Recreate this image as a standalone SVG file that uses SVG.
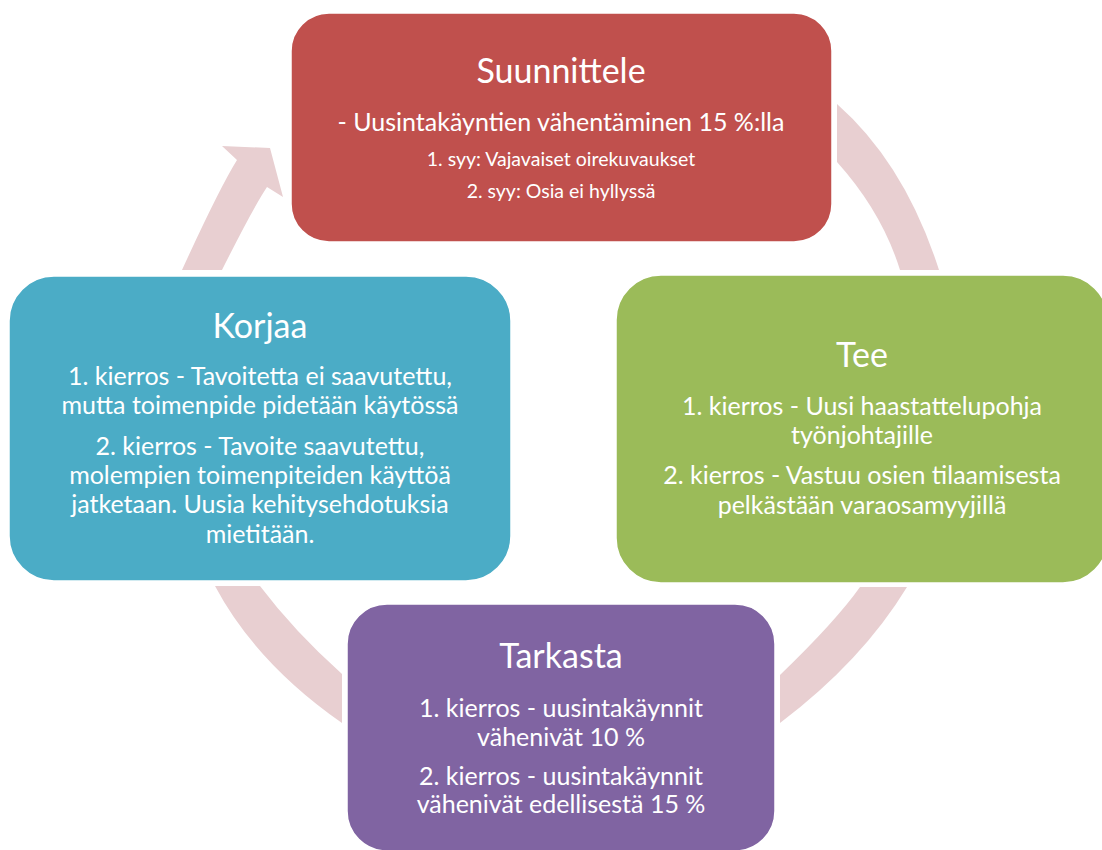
<svg xmlns="http://www.w3.org/2000/svg" width="1102" height="850" viewBox="0 0 1102 850">
<style>
.ring{fill:#E8CFD1;stroke:none}
.box{stroke:#ffffff;stroke-width:1.5}
text{font-family:Lato,"Liberation Sans",sans-serif;fill:#ffffff;text-anchor:middle}
.t{font-size:34px}
.b{font-size:25px}
.s{font-size:19.5px}
</style>
<rect width="1102" height="850" fill="#ffffff"/>
<g id="connectors">
<path class="ring" d="M837,104 Q905,164 939,270 L900,270 Q882,212 837,162 Z"/>
<path class="ring" d="M907,587 Q862,661 780,723 L780,675 Q836,621 860,587 Z"/>
<path class="ring" d="M215,586 Q256,663 342,723 L342,674 Q294,631 260,586 Z"/>
<path class="ring" d="M182,270 Q219,189 237,160 L222,146 L270,148 L283,197 L267,187 Q253,208 222,270 Z"/>
</g>
<g id="suunnittele">
<rect class="box" x="291" y="13" width="541" height="229" rx="38" fill="#C0504D"/>
<text class="t" x="561" y="83">Suunnittele</text>
<text class="b" x="561" y="131">- Uusintakäyntien vähentäminen 15 %:lla</text>
<text class="s" x="561" y="166">1. syy: Vajavaiset oirekuvaukset</text>
<text class="s" x="561" y="198">2. syy: Osia ei hyllyssä</text>
</g>
<g id="tee">
<rect class="box" x="616" y="275" width="492" height="308" rx="45" fill="#9BBB59"/>
<text class="t" x="862" y="367">Tee</text>
<text class="b" x="862" y="415">1. kierros - Uusi haastattelupohja</text>
<text class="b" x="862" y="444">työnjohtajille</text>
<text class="b" x="862" y="484">2. kierros - Vastuu osien tilaamisesta</text>
<text class="b" x="862" y="514">pelkästään varaosamyyjillä</text>
</g>
<g id="korjaa">
<rect class="box" x="9" y="276" width="502" height="305" rx="45" fill="#4BACC6"/>
<text class="t" x="260" y="338">Korjaa</text>
<text class="b" x="260" y="385">1. kierros - Tavoitetta ei saavutettu,</text>
<text class="b" x="260" y="414">mutta toimenpide pidetään käytössä</text>
<text class="b" x="260" y="455">2. kierros - Tavoite saavutettu,</text>
<text class="b" x="260" y="484">molempien toimenpiteiden käyttöä</text>
<text class="b" x="260" y="513">jatketaan. Uusia kehitysehdotuksia</text>
<text class="b" x="260" y="543">mietitään.</text>
</g>
<g id="tarkasta">
<rect class="box" x="347" y="604" width="428" height="247" rx="40" fill="#8064A2"/>
<text class="t" x="561" y="668">Tarkasta</text>
<text class="b" x="561" y="717">1. kierros - uusintakäynnit</text>
<text class="b" x="561" y="746">vähenivät 10 %</text>
<text class="b" x="561" y="785">2. kierros - uusintakäynnit</text>
<text class="b" x="561" y="813">vähenivät edellisestä 15 %</text>
</g>
</svg>
